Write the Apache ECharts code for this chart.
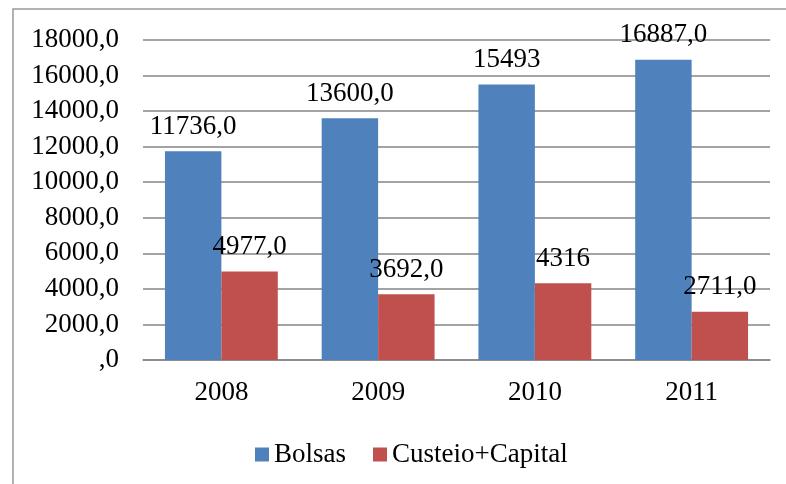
<!DOCTYPE html>
<html lang="pt">

<head>
    <meta charset="UTF-8">
    <title>Bolsas x Custeio+Capital</title>
    <script src="https://cdn.jsdelivr.net/npm/echarts@6/dist/echarts.min.js"></script>
    <style>
        html, body { margin: 0; padding: 0; background: #fff; }
    </style>
</head>

<body>
    <div id="main" style="width: 786px;height: 484px;"></div>
    <script>
        var chart = echarts.init(document.getElementById('main'));

        var years = ['2008', '2009', '2010', '2011'];
        var bolsas = [11736, 13600, 15493, 16887];
        var custeio = [4977, 3692, 4316, 2711];
        // labels as printed in the original (some without ",0")
        var bolsasLabels = ['11736,0', '13600,0', '15493', '16887,0'];
        var custeioLabels = ['4977,0', '3692,0', '4316', '2711,0'];

        var font = '"Liberation Serif", "Times New Roman", serif';
        var gridColor = '#858585';

        function barLabel(texts) {
            return {
                show: true,
                position: 'top',
                distance: 11,
                color: '#000',
                fontFamily: font,
                fontSize: 27,
                formatter: function (p) {
                    return texts[p.dataIndex];
                }
            };
        }

        var option = {
            animation: false,
            graphic: [{
                type: 'rect',
                shape: { x: 13, y: 9, width: 900, height: 600 },
                style: { fill: null, stroke: '#999', lineWidth: 1.5 }
            }],
            grid: { left: 143, right: 16, top: 40, bottom: 124 },
            legend: {
                left: 250,
                top: 436,
                itemWidth: 14,
                itemHeight: 14,
                itemGap: 27,
                icon: 'rect',
                textStyle: { fontFamily: font, fontSize: 27, color: '#000' },
                data: ['Bolsas', 'Custeio+Capital']
            },
            xAxis: {
                type: 'category',
                data: years,
                axisLine: { lineStyle: { color: gridColor, width: 1.5 } },
                axisTick: { show: false },
                axisLabel: { margin: 19, color: '#000', fontFamily: font, fontSize: 27 }
            },
            yAxis: {
                type: 'value',
                min: 0,
                max: 18000,
                interval: 2000,
                axisLine: { show: false },
                axisTick: { show: false },
                splitLine: { lineStyle: { color: gridColor, width: 1.5 } },
                axisLabel: {
                    margin: 24,
                    color: '#000',
                    fontFamily: font,
                    fontSize: 27,
                    formatter: function (v) {
                        return v === 0 ? ',0' : v + ',0';
                    }
                }
            },
            series: [{
                name: 'Bolsas',
                type: 'bar',
                data: bolsas,
                barGap: '0%',
                barCategoryGap: '28%',
                itemStyle: { color: '#4F81BD' },
                label: barLabel(bolsasLabels)
            }, {
                name: 'Custeio+Capital',
                type: 'bar',
                data: custeio,
                itemStyle: { color: '#C0504D' },
                label: barLabel(custeioLabels)
            }]
        };
        chart.setOption(option);
    </script>
</body>

</html>
